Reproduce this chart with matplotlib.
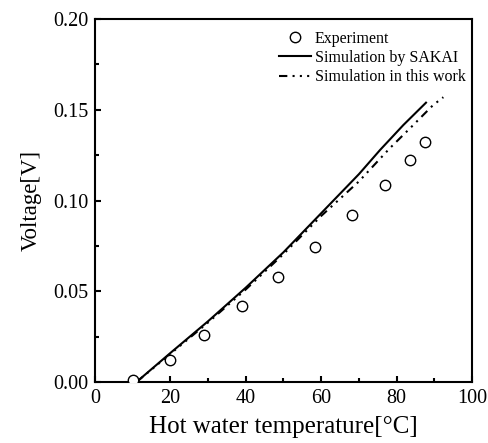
import matplotlib.pyplot as plt
from matplotlib.ticker import MultipleLocator

plt.rcParams['font.family'] = ['Liberation Serif', 'DejaVu Serif']

# measured thermoelectric output
exp_temp = [10.0, 19.9, 28.9, 39.0, 48.6, 58.4, 68.3, 77.0, 83.5, 87.5]
exp_volt = [0.001, 0.012, 0.026, 0.042, 0.0577, 0.0746, 0.092, 0.1085, 0.1225, 0.132]

# reference simulation (SAKAI)
sakai_temp = [11.0, 20.0, 30.0, 40.0, 50.0, 60.0, 70.0, 75.6, 81.8, 87.8]
sakai_volt = [0.0, 0.016, 0.0335, 0.052, 0.0715, 0.093, 0.1145, 0.1278, 0.1416, 0.1539]

# present simulation
work_temp = [11.0, 20.0, 30.0, 40.0, 50.0, 60.0, 70.0, 78.2, 84.0, 89.7, 92.4]
work_volt = [0.0, 0.0155, 0.0328, 0.051, 0.0705, 0.0915, 0.1105, 0.1288, 0.1407, 0.1526, 0.1569]

fig = plt.figure(figsize=(4.89, 4.43), dpi=100)
ax = fig.add_axes([0.1943, 0.1377, 0.7709, 0.8194])

ax.plot(exp_temp, exp_volt, 'o', mfc='white', mec='black', mew=1.0, ms=7.5,
        label='Experiment', zorder=3)
ax.plot(sakai_temp, sakai_volt, '-', color='black', lw=1.5,
        label='Simulation by SAKAI')
ax.plot(work_temp, work_volt, color='black', lw=1.5,
        dashes=(4, 2.5, 1, 2.5, 1, 2.5, 1, 2.5),
        label='Simulation in this work')

ax.set_xlim(0, 100)
ax.set_ylim(0, 0.2)
ax.xaxis.set_major_locator(MultipleLocator(20))
ax.xaxis.set_minor_locator(MultipleLocator(10))
ax.yaxis.set_major_locator(MultipleLocator(0.05))
ax.yaxis.set_minor_locator(MultipleLocator(0.025))
ax.yaxis.set_major_formatter(lambda v, p: f'{v:.2f}')
ax.tick_params(which='both', direction='in', top=False, right=False,
               width=1.5, labelsize=14.5, pad=5)
ax.tick_params(which='major', length=4)
ax.tick_params(which='minor', length=3)
for s in ax.spines.values():
    s.set_linewidth(1.5)

ax.set_xlabel('Hot water temperature[°C]', fontsize=18, labelpad=6)
ax.set_ylabel('Voltage[V]', fontsize=16.5, labelpad=8)

ax.legend(loc='upper right', bbox_to_anchor=(1.0, 0.985), frameon=False,
          fontsize=11.5, handlelength=2.0, handletextpad=0.25,
          labelspacing=0.2, borderaxespad=0.0)

fig.savefig('out.png', dpi=100)
